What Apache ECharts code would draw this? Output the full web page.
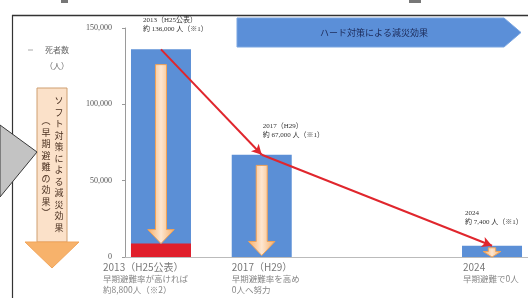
<!DOCTYPE html>
<html><head><meta charset="utf-8">
<script src="https://cdn.jsdelivr.net/npm/echarts@6/dist/echarts.min.js"></script>
<style>html,body{margin:0;padding:0;background:#fff}#c{width:528px;height:298px}</style>
</head><body><div id="c"></div>
<script>
// ---- data ----
const categories = ['', '', '2013（H25公表）', '', '', '', '', '', '', '2017（H29）',
  '', '', '', '', '', '', '', '', '', '', '', '', '', '', '', '2024', '', ''];
const deaths = [null, null, 136000, null, null, null, null, null, null, 67000,
  null, null, null, null, null, null, null, null, null, null, null, null, null, null, null, 7400, null, null];
const earlyEvacDeaths = [null, null, 8800, null, null, null, null, null, null, null,
  null, null, null, null, null, null, null, null, null, null, null, null, null, null, null, null, null, null];
const softArrowFrom = [null, null, 126000, null, null, null, null, null, null, 60000,
  null, null, null, null, null, null, null, null, null, null, null, null, null, null, null, 6000, null, null];
const softArrowTo = [null, null, 8800, null, null, null, null, null, null, 1000,
  null, null, null, null, null, null, null, null, null, null, null, null, null, null, null, 0, null, null];
const topLabels = ['2013（H25公表）\n約 136,000 人（※1）', '2017（H29）\n約 67,000 人（※1）', '2024\n約 7,400 人（※1）'];
const notes = ['早期避難率が高ければ\n約8,800人（※2）', '早期避難率を高め\n0人へ努力', '早期避難で0人'];
const yTicks = [0, 50000, 100000, 150000];

// ---- layout / style (not data) ----
const topLabelOffsets = [[-18, -11], [1, -10], [-27, -14]];
const bottomLabelOffsets = [[-58, -1], [-30, -1], [-29, -1]];
const serif = "'Liberation Serif','Noto Sans CJK JP',serif";
const sans = "'Noto Sans CJK JP','Noto Sans',sans-serif";

const idxs = deaths.map((v, i) => v == null ? -1 : i).filter(i => i >= 0);

const barData = deaths.map((v, i) => {
  if (v == null) return null;
  const k = idxs.indexOf(i);
  return { value: v, label: { show: true, position: 'top', align: 'left', offset: topLabelOffsets[k],
    formatter: topLabels[k] } };
});
const bottomData = deaths.map((v, i) => {
  if (v == null) return null;
  const k = idxs.indexOf(i);
  const lines = notes[k].split('\n').map(s => '{n|' + s + '}').join('\n');
  return { value: 0, label: { show: true, position: 'bottom', align: 'left', offset: bottomLabelOffsets[k],
    formatter: '{y|' + categories[i] + '}\n' + lines } };
});
const arrowData = softArrowFrom.map((v, i) => v == null ? null : [i, v, softArrowTo[i]]).filter(d => d);

const chart = echarts.init(document.getElementById('c'), null, { renderer: 'canvas' });
chart.setOption({
  animation: false,
  backgroundColor: '#fff',
  grid: { left: 125, top: 28, width: 404, height: 229, containLabel: false },
  xAxis: {
    type: 'category', data: categories, boundaryGap: true,
    axisLine: { lineStyle: { color: '#bbbbbb', width: 1 } },
    axisTick: { show: false }, axisLabel: { show: false }
  },
  yAxis: {
    type: 'value', min: yTicks[0], max: yTicks[yTicks.length - 1], interval: yTicks[1] - yTicks[0],
    splitLine: { show: false },
    axisLine: { show: true, lineStyle: { color: '#9a9a9a', width: 1 } },
    axisTick: { show: true, length: 3, lineStyle: { color: '#9a9a9a' } },
    axisLabel: { margin: 13, fontSize: 8, color: '#555', fontFamily: serif,
      formatter: v => v.toLocaleString('en-US') }
  },
  series: [
    { type: 'bar', data: barData, barWidth: 60, z: 2,
      itemStyle: { color: '#5b8fd6' },
      label: { fontSize: 7, lineHeight: 9, color: '#333', fontFamily: serif } },
    { type: 'bar', data: earlyEvacDeaths, barWidth: 60, barGap: '-100%', z: 3,
      itemStyle: { color: '#e01f2b' } },
    { type: 'scatter', data: bottomData, symbolSize: 0, z: 3,
      label: { color: '#555', fontFamily: sans,
        rich: { y: { fontSize: 10, lineHeight: 12, color: '#555' }, n: { fontSize: 8.5, lineHeight: 11.5, color: '#666' } } } },
    { type: 'custom', z: 4, data: arrowData,
      renderItem: function (params, api) {
        const a = api.coord([api.value(0), api.value(1)]);
        const b = api.coord([api.value(0), api.value(2)]);
        const cx = a[0], top = a[1], ty = b[1];
        const len = ty - top;
        const sw = Math.min(11, len * 0.8);
        const hw = Math.max(sw * 2.4, 16);
        const hh = Math.min(14, len * 0.6);
        return {
          type: 'polygon',
          shape: { points: [[cx - sw / 2, top], [cx + sw / 2, top], [cx + sw / 2, ty - hh], [cx + hw / 2, ty - hh],
            [cx, ty], [cx - hw / 2, ty - hh], [cx - sw / 2, ty - hh]] },
          style: { fill: new echarts.graphic.LinearGradient(0, 0, 1, 0, [
            { offset: 0, color: '#f6ad66' }, { offset: 0.5, color: '#fde6d0' }, { offset: 1, color: '#f6ad66' }]),
            stroke: '#f2a357', lineWidth: 1 }
        };
      },
      markLine: {
        silent: true, symbol: ['none', 'arrow'], symbolSize: [8, 10],
        lineStyle: { color: '#e0262d', width: 2, type: 'solid' },
        label: { show: false },
        data: [
          [{ coord: [idxs[0], deaths[idxs[0]]] }, { coord: [idxs[1], deaths[idxs[1]]] }],
          [{ coord: [idxs[1], deaths[idxs[1]]] }, { coord: [idxs[2], deaths[idxs[2]]] }]
        ]
      }
    }
  ],
  graphic: [
    { type: 'rect', shape: { x: 61, y: 0, width: 7, height: 3 }, style: { fill: '#777' } },
    { type: 'rect', shape: { x: 409, y: 0, width: 12, height: 3 }, style: { fill: '#777' } },
    { type: 'line', shape: { x1: 12, y1: 15.5, x2: 528, y2: 15.5 }, style: { stroke: '#333', lineWidth: 1.5 } },
    { type: 'line', shape: { x1: 12.5, y1: 15, x2: 12.5, y2: 298 }, style: { stroke: '#333', lineWidth: 1.2 } },
    { type: 'polygon', shape: { points: [[237, 18], [504, 18], [521, 32.5], [504, 47], [237, 47]] },
      style: { fill: '#5b8fd8', stroke: '#7aa5e0', lineWidth: 1 } },
    { type: 'text', x: 374, y: 32.5, style: { text: 'ハード対策による減災効果', fontSize: 9, fill: '#1c2a58',
      fontFamily: sans, align: 'center', verticalAlign: 'middle' } },
    { type: 'text', x: 57, y: 51, style: { text: '死者数', fontSize: 8, fill: '#666', fontFamily: serif, align: 'center', verticalAlign: 'middle' } },
    { type: 'text', x: 57, y: 67, style: { text: '（人）', fontSize: 8, fill: '#666', fontFamily: serif, align: 'center', verticalAlign: 'middle' } },
    { type: 'line', shape: { x1: 28, y1: 50, x2: 33, y2: 50 }, style: { stroke: '#aaa', lineWidth: 1 } },
    { type: 'rect', shape: { x: 37, y: 88, width: 30, height: 154 }, style: { fill: '#fbe1c9', stroke: '#cf9f70', lineWidth: 1 } },
    { type: 'polygon', shape: { points: [[25, 242], [79, 242], [52, 268]] }, style: { fill: '#f7b26b', stroke: '#f2a55a', lineWidth: 1 } },
    { type: 'text', x: 59, y: 95, style: { text: 'ソ\nフ\nト\n対\n策\nに\nよ\nる\n減\n災\n効\n果', fontSize: 9, lineHeight: 11.5,
      fill: '#4a3020', fontFamily: sans, align: 'center', verticalAlign: 'top' } },
    { type: 'text', x: 46, y: 115, style: { text: '︵\n早\n期\n避\n難\nの\n効\n果\n︶', fontSize: 9, lineHeight: 11.5,
      fill: '#4a3020', fontFamily: sans, align: 'center', verticalAlign: 'top' } },
    { type: 'polygon', z: 100, shape: { points: [[0, 125], [37, 152], [0, 197]] }, style: { fill: '#c3c3c3', stroke: '#3a3a3a', lineWidth: 1 } }
  ]
});
</script></body></html>
